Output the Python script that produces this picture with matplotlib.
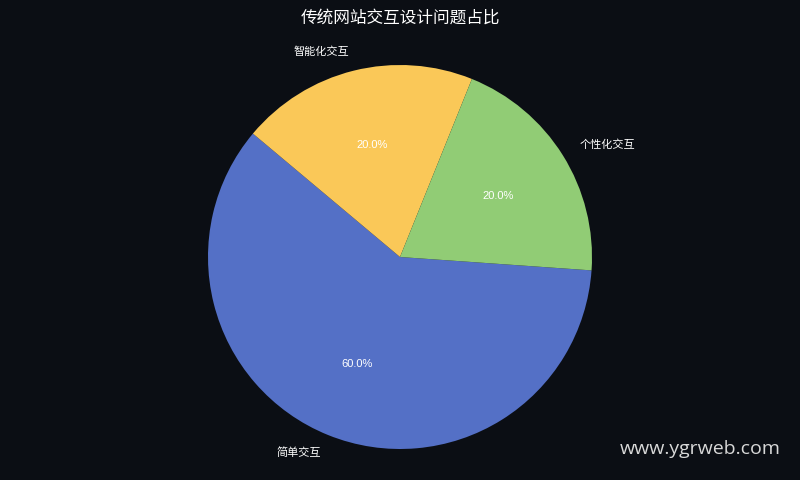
import matplotlib
matplotlib.use("Agg")
import matplotlib.pyplot as plt

categories = ["简单交互", "智能化交互", "个性化交互"]
values = [60, 20, 20]
colors = ["#5470c6", "#fac858", "#91cc75"]
title = "传统网站交互设计问题占比"
watermark = "www.ygrweb.com"

plt.rcParams['font.family'] = ['Liberation Sans', 'Noto Sans CJK SC', 'DejaVu Sans']
bg = "#0b0e14"

fig = plt.figure(figsize=(8, 4.8), dpi=100, facecolor=bg)
ax = fig.add_axes([0, 0, 1, 1])
ax.set_facecolor(bg)

wedges, texts, autotexts = ax.pie(
    values, labels=categories, colors=colors, autopct="%1.1f%%",
    startangle=-4, counterclock=False, labeldistance=1.1, pctdistance=0.6,
    textprops=dict(color="white", fontsize=8),
)
for t in texts:
    t.set_family(['Noto Sans CJK SC', 'DejaVu Sans'])
    t.set_fontsize(8)

r = 192.0
ax.set_xlim(-400 / r, 400 / r)
ax.set_ylim(-223 / r, 257 / r)
ax.set_aspect("equal")
ax.axis("off")

fig.text(0.5, 1 - 18 / 480, title, ha="center", va="center", color="white",
         fontsize=12, family=['Noto Sans CJK SC', 'DejaVu Sans'])
fig.text(781 / 800, 1 - 449 / 480, watermark, ha="right", va="center",
         color="#d8d8d8", fontsize=14, family=['Open Sans', 'DejaVu Sans'])

fig.savefig("out.png", facecolor=bg)
